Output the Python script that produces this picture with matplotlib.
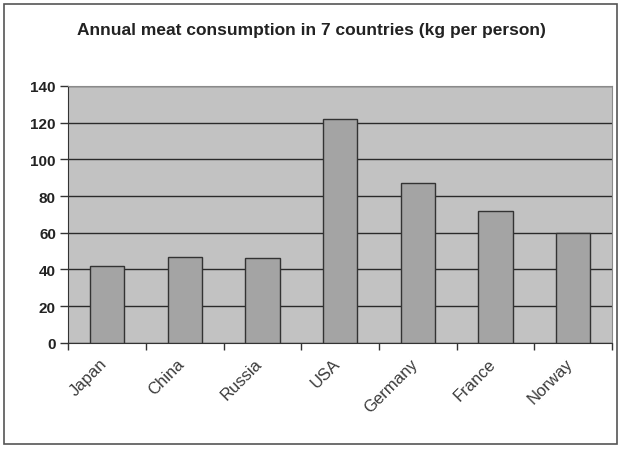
import numpy as np
import matplotlib
matplotlib.use("Agg")
import matplotlib.pyplot as plt
import matplotlib.transforms as mtransforms
from matplotlib.patches import Rectangle

# ── DATA ───────────────────────────────────────────────────────
countries = ["Japan", "China", "Russia", "USA", "Germany", "France", "Norway"]
consumption = [42, 47, 46, 122, 87, 72, 60]
y_ticks = [0, 20, 40, 60, 80, 100, 120, 140]

plt.rcParams["font.family"] = ["Liberation Sans", "DejaVu Sans"]

fig = plt.figure(figsize=(6.22, 4.52), dpi=100)
ax = fig.add_axes([0.110, 0.239, 0.874, 0.569])

# outer chart border
fig.patches.append(Rectangle((0.007, 0.015), 0.985, 0.973, transform=fig.transFigure,
                             fill=False, edgecolor="#555555", linewidth=1.2))

ax.set_facecolor("#c2c2c2")
x = np.arange(len(countries))
ax.bar(x, consumption, width=0.44, color="#a4a4a4", edgecolor="#333333",
       linewidth=1.0, zorder=3)

ax.set_xlim(-0.5, len(countries) - 0.5)
ax.set_ylim(0, 140)
ax.set_yticks(y_ticks)
ax.set_yticklabels([str(v) for v in y_ticks], fontsize=11, fontweight="bold", color="#222222")
ax.yaxis.grid(True, color="#2a2a2a", linewidth=1.0, zorder=1)
ax.set_axisbelow(True)

ax.set_xticks(x)
ax.set_xticklabels(countries, rotation=45, ha="right", rotation_mode="anchor",
                   fontsize=12, color="#3a3a3a")
ax.tick_params(axis="x", which="major", length=0, pad=9)
# nudge rotated labels a bit to the left like the original
shift = mtransforms.ScaledTranslation(-8 / 100, 0, fig.dpi_scale_trans)
for lbl in ax.get_xticklabels():
    lbl.set_transform(lbl.get_transform() + shift)
ax.set_xticks(np.arange(-0.5, len(countries) + 0.5, 1), minor=True)
ax.tick_params(axis="x", which="minor", length=5, color="#333333", width=1)
ax.tick_params(axis="y", length=6, color="#333333", width=1, pad=3)

for side in ["top", "right"]:
    ax.spines[side].set_color("#8a8a8a")
ax.spines["left"].set_color("#333333")
ax.spines["bottom"].set_color("#333333")

fig.text(0.5, 0.932, "Annual meat consumption in 7 countries (kg per person)",
         ha="center", va="center", fontsize=12.5, fontweight="bold", color="#222222")

plt.savefig("out.png", dpi=100)
